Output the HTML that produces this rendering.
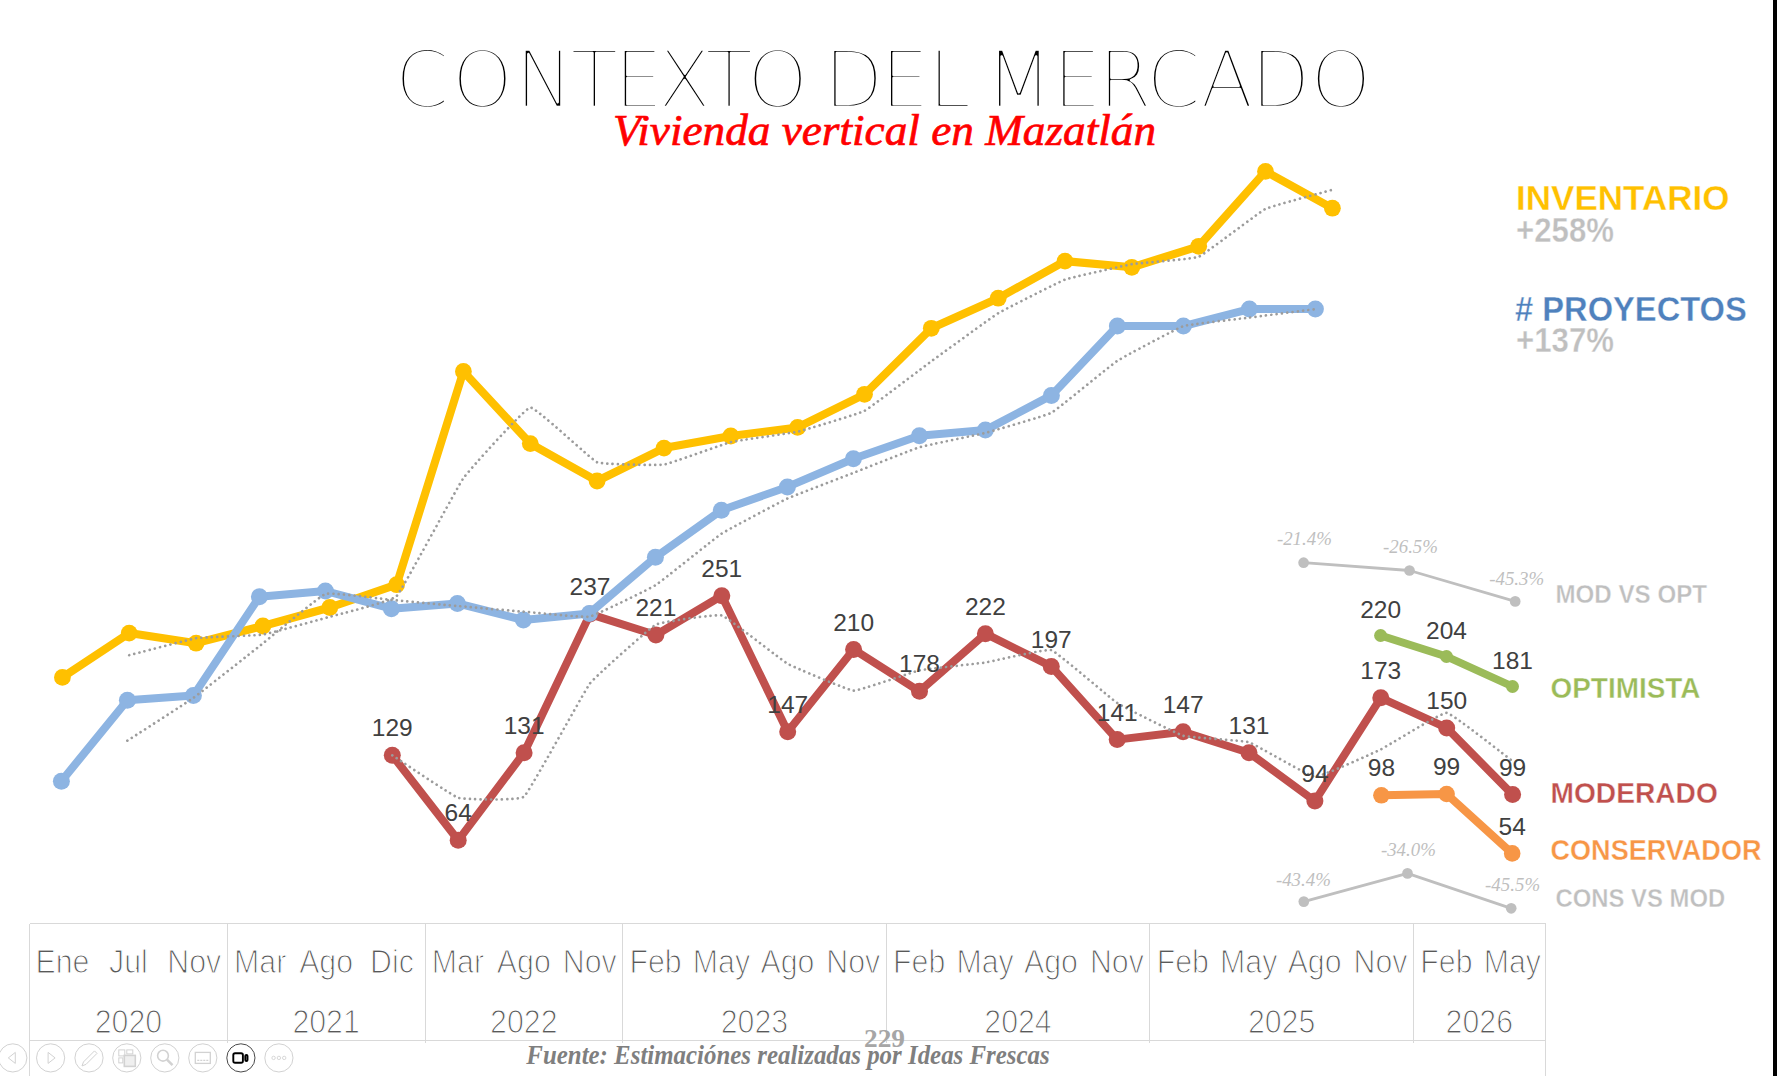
<!DOCTYPE html>
<html lang="es"><head><meta charset="utf-8"><title>Contexto del mercado</title>
<style>
html,body{margin:0;padding:0;background:#fff;}
body{width:1777px;height:1076px;overflow:hidden;position:relative;font-family:"Liberation Sans",sans-serif;}
svg{position:absolute;left:0;top:0;display:block;}
text{white-space:pre;}
.ttl{font-family:"DejaVu Sans Light","DejaVu Sans","Liberation Sans",sans-serif;font-weight:200;font-size:78px;fill:#000;stroke:#fff;stroke-width:2.5px;paint-order:fill stroke;stroke-linejoin:round;}
.sub{font-family:"Liberation Serif",serif;font-style:italic;font-size:45px;fill:#ff0000;stroke:#ff0000;stroke-width:0.7px;}
.lg{font-family:"Liberation Sans",sans-serif;font-weight:bold;stroke:#fff;stroke-width:0.35px;paint-order:fill stroke;}
.dl{font-family:"Liberation Sans",sans-serif;font-size:24.5px;fill:#404040;text-anchor:middle;}
.ax{font-family:"Liberation Sans",sans-serif;font-size:33.5px;fill:#595959;text-anchor:middle;stroke:#fff;stroke-width:1.2px;paint-order:fill stroke;}
.pc{font-family:"Liberation Serif",serif;font-style:italic;font-size:19px;fill:#bfbfbf;text-anchor:middle;}
.src{font-family:"Liberation Serif",serif;font-style:italic;font-weight:bold;font-size:27.5px;fill:#7f7f7f;}
.pg{font-family:"Liberation Serif",serif;font-weight:bold;font-size:25.5px;fill:#a6a6a6;text-anchor:middle;}
</style></head><body>
<svg width="1777" height="1076" viewBox="0 0 1777 1076">
<rect x="0" y="0" width="1777" height="1076" fill="#fff"/>
<g stroke="#d9d9d9" stroke-width="1" fill="none" shape-rendering="crispEdges">
<path d="M29.5 923.5 H1545.5"/>
<path d="M29.5 1040.5 H1545.5"/>
<path d="M29.5 923.5 V1076"/>
<path d="M1545.5 923.5 V1076"/>
<path d="M227.5 923.5 V1042.5"/>
<path d="M425.5 923.5 V1042.5"/>
<path d="M622.5 923.5 V1042.5"/>
<path d="M886.5 923.5 V1042.5"/>
<path d="M1149.5 923.5 V1042.5"/>
<path d="M1413.5 923.5 V1042.5"/>
</g>
<text class="ax" transform="translate(62.5,972.5) scale(0.905,1)">Ene</text>
<text class="ax" transform="translate(128.4,972.5) scale(0.905,1)">Jul</text>
<text class="ax" transform="translate(194.2,972.5) scale(0.905,1)">Nov</text>
<text class="ax" transform="translate(260.2,972.5) scale(0.905,1)">Mar</text>
<text class="ax" transform="translate(326.1,972.5) scale(0.905,1)">Ago</text>
<text class="ax" transform="translate(391.9,972.5) scale(0.905,1)">Dic</text>
<text class="ax" transform="translate(457.9,972.5) scale(0.905,1)">Mar</text>
<text class="ax" transform="translate(523.8,972.5) scale(0.905,1)">Ago</text>
<text class="ax" transform="translate(589.7,972.5) scale(0.905,1)">Nov</text>
<text class="ax" transform="translate(655.6,972.5) scale(0.905,1)">Feb</text>
<text class="ax" transform="translate(721.5,972.5) scale(0.905,1)">May</text>
<text class="ax" transform="translate(787.4,972.5) scale(0.905,1)">Ago</text>
<text class="ax" transform="translate(853.3,972.5) scale(0.905,1)">Nov</text>
<text class="ax" transform="translate(919.2,972.5) scale(0.905,1)">Feb</text>
<text class="ax" transform="translate(985.1,972.5) scale(0.905,1)">May</text>
<text class="ax" transform="translate(1051,972.5) scale(0.905,1)">Ago</text>
<text class="ax" transform="translate(1116.9,972.5) scale(0.905,1)">Nov</text>
<text class="ax" transform="translate(1182.8,972.5) scale(0.905,1)">Feb</text>
<text class="ax" transform="translate(1248.7,972.5) scale(0.905,1)">May</text>
<text class="ax" transform="translate(1314.6,972.5) scale(0.905,1)">Ago</text>
<text class="ax" transform="translate(1380.5,972.5) scale(0.905,1)">Nov</text>
<text class="ax" transform="translate(1446.4,972.5) scale(0.905,1)">Feb</text>
<text class="ax" transform="translate(1512.3,972.5) scale(0.905,1)">May</text>
<text class="ax" transform="translate(128.4,1032.8) scale(0.905,1)">2020</text>
<text class="ax" transform="translate(326.1,1032.8) scale(0.905,1)">2021</text>
<text class="ax" transform="translate(523.8,1032.8) scale(0.905,1)">2022</text>
<text class="ax" transform="translate(754.4,1032.8) scale(0.905,1)">2023</text>
<text class="ax" transform="translate(1018,1032.8) scale(0.905,1)">2024</text>
<text class="ax" transform="translate(1281.6,1032.8) scale(0.905,1)">2025</text>
<text class="ax" transform="translate(1479.3,1032.8) scale(0.905,1)">2026</text>
<path d="M1303.6 562.7 L1409.5 570.5 L1515.2 601.4" fill="none" stroke="#bfbfbf" stroke-width="2.8" stroke-linejoin="round" stroke-linecap="round"/>
<circle cx="1303.6" cy="562.7" r="5.35" fill="#bfbfbf"/>
<circle cx="1409.5" cy="570.5" r="5.35" fill="#bfbfbf"/>
<circle cx="1515.2" cy="601.4" r="5.35" fill="#bfbfbf"/>
<path d="M1303.8 901.6 L1407.5 873.4 L1511.2 908.3" fill="none" stroke="#bfbfbf" stroke-width="2.8" stroke-linejoin="round" stroke-linecap="round"/>
<circle cx="1303.8" cy="901.6" r="5.35" fill="#bfbfbf"/>
<circle cx="1407.5" cy="873.4" r="5.35" fill="#bfbfbf"/>
<circle cx="1511.2" cy="908.3" r="5.35" fill="#bfbfbf"/>
<path d="M62.4 677.4 L129.2 633.1 L196.1 643.2 L262.9 626 L329.8 607.5 L396.6 584.7 L463.4 371.4 L530.3 443.6 L597.1 481 L664 448.1 L730.8 436 L797.6 427.4 L864.5 394.3 L931.3 328.3 L998.2 298.2 L1065 261.1 L1131.8 267.3 L1198.7 246.3 L1265.5 171.4 L1332.4 208.2" fill="none" stroke="#ffc000" stroke-width="8.1" stroke-linejoin="round" stroke-linecap="round"/>
<circle cx="62.4" cy="677.4" r="8.4" fill="#ffc000"/>
<circle cx="129.2" cy="633.1" r="8.4" fill="#ffc000"/>
<circle cx="196.1" cy="643.2" r="8.4" fill="#ffc000"/>
<circle cx="262.9" cy="626" r="8.4" fill="#ffc000"/>
<circle cx="329.8" cy="607.5" r="8.4" fill="#ffc000"/>
<circle cx="396.6" cy="584.7" r="8.4" fill="#ffc000"/>
<circle cx="463.4" cy="371.4" r="8.4" fill="#ffc000"/>
<circle cx="530.3" cy="443.6" r="8.4" fill="#ffc000"/>
<circle cx="597.1" cy="481" r="8.4" fill="#ffc000"/>
<circle cx="664" cy="448.1" r="8.4" fill="#ffc000"/>
<circle cx="730.8" cy="436" r="8.4" fill="#ffc000"/>
<circle cx="797.6" cy="427.4" r="8.4" fill="#ffc000"/>
<circle cx="864.5" cy="394.3" r="8.4" fill="#ffc000"/>
<circle cx="931.3" cy="328.3" r="8.4" fill="#ffc000"/>
<circle cx="998.2" cy="298.2" r="8.4" fill="#ffc000"/>
<circle cx="1065" cy="261.1" r="8.4" fill="#ffc000"/>
<circle cx="1131.8" cy="267.3" r="8.4" fill="#ffc000"/>
<circle cx="1198.7" cy="246.3" r="8.4" fill="#ffc000"/>
<circle cx="1265.5" cy="171.4" r="8.4" fill="#ffc000"/>
<circle cx="1332.4" cy="208.2" r="8.4" fill="#ffc000"/>
<path d="M392.3 755.3 L458.2 840.3 L524.1 752.7 L590 614.1 L655.9 635 L721.8 595.8 L787.7 731.8 L853.6 649.4 L919.5 691.3 L985.4 633.7 L1051.3 666.4 L1117.2 739.6 L1183.1 731.8 L1249 752.7 L1314.9 801.1 L1380.8 697.8 L1446.7 727.9 L1512.6 794.6" fill="none" stroke="#c0504d" stroke-width="8.0" stroke-linejoin="round" stroke-linecap="round"/>
<circle cx="392.3" cy="755.3" r="8.5" fill="#c0504d"/>
<circle cx="458.2" cy="840.3" r="8.5" fill="#c0504d"/>
<circle cx="524.1" cy="752.7" r="8.5" fill="#c0504d"/>
<circle cx="590" cy="614.1" r="8.5" fill="#c0504d"/>
<circle cx="655.9" cy="635" r="8.5" fill="#c0504d"/>
<circle cx="721.8" cy="595.8" r="8.5" fill="#c0504d"/>
<circle cx="787.7" cy="731.8" r="8.5" fill="#c0504d"/>
<circle cx="853.6" cy="649.4" r="8.5" fill="#c0504d"/>
<circle cx="919.5" cy="691.3" r="8.5" fill="#c0504d"/>
<circle cx="985.4" cy="633.7" r="8.5" fill="#c0504d"/>
<circle cx="1051.3" cy="666.4" r="8.5" fill="#c0504d"/>
<circle cx="1117.2" cy="739.6" r="8.5" fill="#c0504d"/>
<circle cx="1183.1" cy="731.8" r="8.5" fill="#c0504d"/>
<circle cx="1249" cy="752.7" r="8.5" fill="#c0504d"/>
<circle cx="1314.9" cy="801.1" r="8.5" fill="#c0504d"/>
<circle cx="1380.8" cy="697.8" r="8.5" fill="#c0504d"/>
<circle cx="1446.7" cy="727.9" r="8.5" fill="#c0504d"/>
<circle cx="1512.6" cy="794.6" r="8.5" fill="#c0504d"/>
<path d="M61.4 781.2 L127.4 700.2 L193.4 695.6 L259.4 596.8 L325.4 591 L391.4 608.7 L457.4 603.4 L523.4 620 L589.4 613.4 L655.4 557.3 L721.4 510.2 L787.4 486.9 L853.4 458.8 L919.4 435.7 L985.4 430.1 L1051.4 395.4 L1117.4 326.1 L1183.4 326.1 L1249.4 309.1 L1315.4 309.1" fill="none" stroke="#8db4e2" stroke-width="8.0" stroke-linejoin="round" stroke-linecap="round"/>
<circle cx="61.4" cy="781.2" r="8.5" fill="#8db4e2"/>
<circle cx="127.4" cy="700.2" r="8.5" fill="#8db4e2"/>
<circle cx="193.4" cy="695.6" r="8.5" fill="#8db4e2"/>
<circle cx="259.4" cy="596.8" r="8.5" fill="#8db4e2"/>
<circle cx="325.4" cy="591" r="8.5" fill="#8db4e2"/>
<circle cx="391.4" cy="608.7" r="8.5" fill="#8db4e2"/>
<circle cx="457.4" cy="603.4" r="8.5" fill="#8db4e2"/>
<circle cx="523.4" cy="620" r="8.5" fill="#8db4e2"/>
<circle cx="589.4" cy="613.4" r="8.5" fill="#8db4e2"/>
<circle cx="655.4" cy="557.3" r="8.5" fill="#8db4e2"/>
<circle cx="721.4" cy="510.2" r="8.5" fill="#8db4e2"/>
<circle cx="787.4" cy="486.9" r="8.5" fill="#8db4e2"/>
<circle cx="853.4" cy="458.8" r="8.5" fill="#8db4e2"/>
<circle cx="919.4" cy="435.7" r="8.5" fill="#8db4e2"/>
<circle cx="985.4" cy="430.1" r="8.5" fill="#8db4e2"/>
<circle cx="1051.4" cy="395.4" r="8.5" fill="#8db4e2"/>
<circle cx="1117.4" cy="326.1" r="8.5" fill="#8db4e2"/>
<circle cx="1183.4" cy="326.1" r="8.5" fill="#8db4e2"/>
<circle cx="1249.4" cy="309.1" r="8.5" fill="#8db4e2"/>
<circle cx="1315.4" cy="309.1" r="8.5" fill="#8db4e2"/>
<path d="M1380.6 635.5 L1446.5 656.5 L1512.5 686.5" fill="none" stroke="#9bbb59" stroke-width="7.8" stroke-linejoin="round" stroke-linecap="round"/>
<circle cx="1380.6" cy="635.5" r="6.5" fill="#9bbb59"/>
<circle cx="1446.5" cy="656.5" r="6.5" fill="#9bbb59"/>
<circle cx="1512.5" cy="686.5" r="6.5" fill="#9bbb59"/>
<path d="M1381.4 795.3 L1446.6 794 L1512.2 853.4" fill="none" stroke="#f79646" stroke-width="8.1" stroke-linejoin="round" stroke-linecap="round"/>
<circle cx="1381.4" cy="795.3" r="8.3" fill="#f79646"/>
<circle cx="1446.6" cy="794" r="8.3" fill="#f79646"/>
<circle cx="1512.2" cy="853.4" r="8.3" fill="#f79646"/>
<path d="M129.2 655.2 C131.9 654.6 190.7 639 196.1 638.2 C201.4 637.3 257.6 635.5 262.9 634.6 C268.3 633.7 324.4 618.3 329.8 616.8 C335.1 615.2 391.3 601.6 396.6 596.1 C401.9 590.6 458.1 485.6 463.4 478.1 C468.8 470.5 524.9 408.1 530.3 407.5 C535.6 406.9 591.8 460 597.1 462.3 C602.5 464.6 658.6 465.4 664 464.6 C669.3 463.7 725.5 443.4 730.8 442.1 C736.1 440.7 792.3 432.9 797.6 431.7 C803 430.5 859.1 413.7 864.5 410.9 C869.8 408 926 365.2 931.3 361.3 C936.7 357.4 992.8 316.5 998.2 313.2 C1003.5 310 1059.7 281.6 1065 279.6 C1070.3 277.7 1126.5 265.1 1131.8 264.2 C1137.2 263.3 1193.3 259 1198.7 256.8 C1204 254.6 1260.2 211.5 1265.5 208.9 C1270.9 206.2 1329.7 190.6 1332.4 189.8" fill="none" stroke="#9c9c9c" stroke-width="2.7" stroke-linecap="round" stroke-dasharray="0.01 5.3"/>
<path d="M127.4 740.7 C130 739 188.1 701.7 193.4 697.9 C198.7 694.1 254.1 650.4 259.4 646.2 C264.7 642 320.1 595.8 325.4 593.9 C330.7 592 386.1 599.4 391.4 599.9 C396.7 600.3 452.1 605.6 457.4 606 C462.7 606.5 518.1 611.3 523.4 611.7 C528.7 612.1 584.1 617.8 589.4 616.7 C594.7 615.6 650.1 588.7 655.4 585.3 C660.7 582 716.1 537.2 721.4 533.8 C726.7 530.3 782.1 501 787.4 498.5 C792.7 496.1 848.1 474.9 853.4 472.9 C858.7 470.8 914.1 448.8 919.4 447.2 C924.7 445.7 980.1 434.3 985.4 432.9 C990.7 431.5 1046.1 415.6 1051.4 412.8 C1056.7 409.9 1112.1 364.2 1117.4 360.8 C1122.7 357.3 1178.1 327.8 1183.4 326.1 C1188.7 324.4 1244.1 318.3 1249.4 317.6 C1254.7 316.9 1312.8 309.4 1315.4 309.1" fill="none" stroke="#9c9c9c" stroke-width="2.7" stroke-linecap="round" stroke-dasharray="0.01 5.3"/>
<path d="M392.3 755.3 C394.9 757 452.9 796.2 458.2 797.8 C463.5 799.5 518.8 801.1 524.1 796.5 C529.4 791.9 584.7 690.3 590 683.4 C595.3 676.5 650.6 627.3 655.9 624.6 C661.2 621.9 716.5 613.9 721.8 615.4 C727.1 617 782.4 660.8 787.7 663.8 C793 666.8 848.3 690.3 853.6 690.6 C858.9 690.9 914.2 671.5 919.5 670.3 C924.8 669.2 980.1 663.3 985.4 662.5 C990.7 661.7 1046 648.5 1051.3 650.1 C1056.6 651.7 1111.9 699.6 1117.2 703 C1122.5 706.5 1177.8 734.2 1183.1 735.7 C1188.4 737.3 1243.7 740.6 1249 742.3 C1254.3 743.9 1309.6 776.6 1314.9 776.9 C1320.2 777.2 1375.5 752 1380.8 749.4 C1386.1 746.9 1441.4 712.4 1446.7 712.8 C1452 713.3 1510 759.3 1512.6 761.2" fill="none" stroke="#9c9c9c" stroke-width="2.7" stroke-linecap="round" stroke-dasharray="0.01 5.3"/>
<text class="dl" x="392.3" y="736.4">129</text>
<text class="dl" x="458.2" y="821.4">64</text>
<text class="dl" x="524.1" y="733.8">131</text>
<text class="dl" x="590" y="595.2">237</text>
<text class="dl" x="655.9" y="616.1">221</text>
<text class="dl" x="721.8" y="576.9">251</text>
<text class="dl" x="787.7" y="712.9">147</text>
<text class="dl" x="853.6" y="630.5">210</text>
<text class="dl" x="919.5" y="672.4">178</text>
<text class="dl" x="985.4" y="614.8">222</text>
<text class="dl" x="1051.3" y="647.5">197</text>
<text class="dl" x="1117.2" y="720.7">141</text>
<text class="dl" x="1183.1" y="712.9">147</text>
<text class="dl" x="1249" y="733.8">131</text>
<text class="dl" x="1314.9" y="782.2">94</text>
<text class="dl" x="1380.8" y="678.9">173</text>
<text class="dl" x="1446.7" y="709">150</text>
<text class="dl" x="1512.6" y="775.7">99</text>
<text class="dl" x="1380.6" y="617.5">220</text>
<text class="dl" x="1446.5" y="638.5">204</text>
<text class="dl" x="1512.5" y="668.5">181</text>
<text class="dl" x="1381.4" y="776.4">98</text>
<text class="dl" x="1446.6" y="775.1">99</text>
<text class="dl" x="1512.2" y="834.5">54</text>
<text class="pc" x="1304.4" y="545" textLength="55" lengthAdjust="spacingAndGlyphs">-21.4%</text>
<text class="pc" x="1410.5" y="553" textLength="55" lengthAdjust="spacingAndGlyphs">-26.5%</text>
<text class="pc" x="1516.7" y="585" textLength="55" lengthAdjust="spacingAndGlyphs">-45.3%</text>
<text class="pc" x="1303.4" y="885.7" textLength="55" lengthAdjust="spacingAndGlyphs">-43.4%</text>
<text class="pc" x="1408.4" y="856.4" textLength="55" lengthAdjust="spacingAndGlyphs">-34.0%</text>
<text class="pc" x="1512.6" y="890.7" textLength="55" lengthAdjust="spacingAndGlyphs">-45.5%</text>
<text class="lg" x="1516" y="210" font-size="35.3" fill="#ffc000" textLength="213.5" lengthAdjust="spacingAndGlyphs">INVENTARIO</text>
<text class="lg" x="1516" y="241.9" font-size="34.7" fill="#bfbfbf" textLength="98" lengthAdjust="spacingAndGlyphs">+258%</text>
<text class="lg" x="1515" y="320.7" font-size="35.3" fill="#4f81bd" textLength="231.8" lengthAdjust="spacingAndGlyphs"># PROYECTOS</text>
<text class="lg" x="1516" y="352.3" font-size="34.7" fill="#bfbfbf" textLength="98" lengthAdjust="spacingAndGlyphs">+137%</text>
<text class="lg" x="1555.5" y="602.8" font-size="25.5" fill="#bfbfbf" textLength="151.5" lengthAdjust="spacingAndGlyphs">MOD VS OPT</text>
<text class="lg" x="1550.5" y="698" font-size="28.6" fill="#9bbb59" textLength="150" lengthAdjust="spacingAndGlyphs">OPTIMISTA</text>
<text class="lg" x="1550.5" y="803.2" font-size="28.9" fill="#c0504d" textLength="167.3" lengthAdjust="spacingAndGlyphs">MODERADO</text>
<text class="lg" x="1550.5" y="860.1" font-size="28.9" fill="#f79646" textLength="211" lengthAdjust="spacingAndGlyphs">CONSERVADOR</text>
<text class="lg" x="1555.5" y="907.3" font-size="25.4" fill="#bfbfbf" textLength="169.7" lengthAdjust="spacingAndGlyphs">CONS VS MOD</text>
<text class="ttl" y="107.2" x="394.8 451.8 514.9 570.6 614.1 657.8 705.2 746.9 810 823.4 880.2 927.8 975 985.3 1052.6 1097.9 1146.2 1200.3 1250.6 1310.2">CONTEXTO DEL MERCADO</text>
<text class="sub" x="613" y="144.7" textLength="543" lengthAdjust="spacingAndGlyphs">Vivienda vertical en Mazatlán</text>
<text class="pg" x="884.5" y="1046.5" textLength="41" lengthAdjust="spacingAndGlyphs">229</text>
<text class="src" x="526.3" y="1063.5" textLength="523.4" lengthAdjust="spacingAndGlyphs">Fuente: Estimaciónes realizadas por Ideas Frescas</text>
<circle cx="12.8" cy="1057.9" r="14.1" fill="#fff" fill-opacity="0.6" stroke="#d2d2d2" stroke-width="1"/>
<circle cx="50.6" cy="1057.9" r="14.1" fill="#fff" fill-opacity="0.6" stroke="#d2d2d2" stroke-width="1"/>
<circle cx="89" cy="1057.9" r="14.1" fill="#fff" fill-opacity="0.6" stroke="#d2d2d2" stroke-width="1"/>
<circle cx="126.8" cy="1057.9" r="14.1" fill="#fff" fill-opacity="0.6" stroke="#d2d2d2" stroke-width="1"/>
<circle cx="164.8" cy="1057.9" r="14.1" fill="#fff" fill-opacity="0.6" stroke="#d2d2d2" stroke-width="1"/>
<circle cx="202.8" cy="1057.9" r="14.1" fill="#fff" fill-opacity="0.6" stroke="#d2d2d2" stroke-width="1"/>
<circle cx="240.9" cy="1057.9" r="14.1" fill="#fff" fill-opacity="0.6" stroke="#4a4a4a" stroke-width="1"/>
<circle cx="278.9" cy="1057.9" r="14.1" fill="#fff" fill-opacity="0.6" stroke="#d2d2d2" stroke-width="1"/>
<path d="M15.3 1057.9 l-7 -5.5 l7 -5.5 z" fill="none" stroke="#d2d2d2" stroke-width="1" transform="translate(0,5.5)"/>
<path d="M48.1 1057.9 l7 -5.5 l-7 -5.5 z" fill="none" stroke="#d2d2d2" stroke-width="1" transform="translate(0,5.5)"/>
<path d="M83.5 1061.9 l11 -11 l2.5 2.5 l-11 11 l-4 1.5 z" fill="none" stroke="#d2d2d2" stroke-width="1"/>
<g fill="none" stroke="#d2d2d2" stroke-width="1"><rect x="118.8" y="1049.9" width="6" height="6"/><rect x="126.8" y="1049.9" width="6" height="4"/><rect x="118.8" y="1057.9" width="4" height="5"/><rect x="124.3" y="1055.4" width="11" height="11" fill="#e4e4e4" fill-opacity="0.6" stroke-width="1.6"/></g>
<g fill="none" stroke="#d2d2d2"><circle cx="163" cy="1055.7" r="5.4" stroke-width="1.6"/><path d="M167 1059.7 l5.5 5.5" stroke-width="2.4"/></g>
<g fill="none" stroke="#d2d2d2"><rect x="195.3" y="1052.4" width="15" height="11" stroke-width="1.3"/><path d="M197.3 1060.4 h11" stroke-width="1.3" stroke-dasharray="2 1"/></g>
<g fill="none" stroke="#000" stroke-width="1.9"><rect x="233.3" y="1053.3" width="9.6" height="9.4" rx="1.8"/><rect x="245.3" y="1055" width="2.2" height="6" rx="1.1" /></g>
<circle cx="273.6" cy="1057.9" r="1.7" fill="none" stroke="#d2d2d2" stroke-width="0.9"/>
<circle cx="278.9" cy="1057.9" r="1.7" fill="none" stroke="#d2d2d2" stroke-width="0.9"/>
<circle cx="284.2" cy="1057.9" r="1.7" fill="none" stroke="#d2d2d2" stroke-width="0.9"/>
<rect x="1773" y="0" width="4" height="1076" fill="#000"/>
</svg></body></html>
